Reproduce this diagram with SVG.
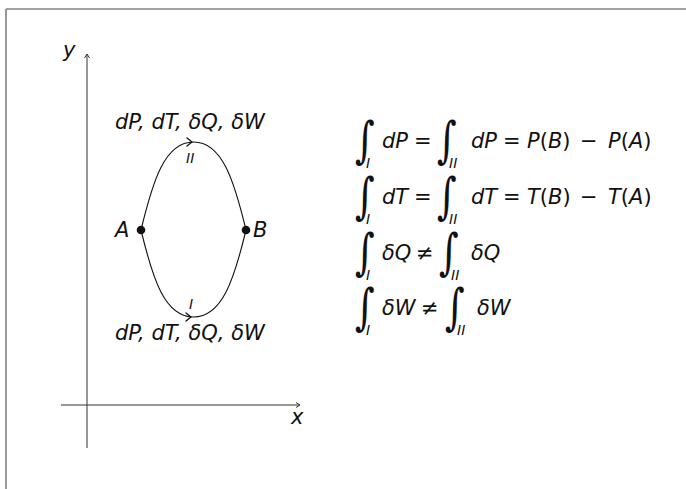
<svg xmlns="http://www.w3.org/2000/svg" width="686" height="489" viewBox="0 0 686 489">
<style>
.m{font-family:"DejaVu Sans",sans-serif;font-style:oblique;font-size:21px;fill:#111}
.u{font-family:"DejaVu Sans",sans-serif;font-style:normal;font-size:21px;fill:#111}
.s{font-family:"DejaVu Sans",sans-serif;font-style:oblique;font-size:14px;fill:#111}
.int{font-family:"DejaVu Serif",serif;font-style:italic;font-size:38px;fill:#111}
.ax{stroke:#333;stroke-width:1;fill:none}
.cv{stroke:#111;stroke-width:1.1;fill:none}
.ah{stroke:#111;stroke-width:1.3;fill:none;stroke-linecap:round;stroke-linejoin:round}
</style>
<rect width="686" height="489" fill="#fff"/>
<g id="frame">
<line x1="6" y1="9" x2="686" y2="9" stroke="#444" stroke-width="1.2"/>
<line x1="6" y1="9" x2="6" y2="489" stroke="#777" stroke-width="1.5"/>
</g>
<g id="axes">
<line class="ax" x1="87" y1="448" x2="87" y2="54"/>
<path class="ax" d="M84.5,58 L87,54 L89.5,58"/>
<line class="ax" x1="61" y1="405" x2="300" y2="405"/>
<path class="ax" d="M296,402.5 L300,405 L296,407.5"/>
<text class="m" x="63" y="57">y</text>
<text class="m" x="291" y="424">x</text>
</g>
<g id="connectors">
<path id="pathII" class="cv" d="M141,230 C153,180 165,142 193.5,142 C222,142 234,180 246,230"/>
<path class="ah" d="M187,138 L192,142 L187,146"/>
<path id="pathI" class="cv" d="M141,230 C153,280 165,317 193.5,317 C222,317 234,280 246,230"/>
<path class="ah" d="M186,313 L191,317 L186,321"/>
<text class="s" x="186" y="163">II</text>
<text class="s" x="189" y="309">I</text>
</g>
<g id="nodeA">
<circle cx="141" cy="230" r="4.3" fill="#111"/>
<text class="m" x="115" y="237">A</text>
</g>
<g id="nodeB">
<circle cx="246" cy="230" r="4.3" fill="#111"/>
<text class="m" x="253" y="237">B</text>
</g>
<g id="labelTop">
<text class="m" x="115" y="129">dP, dT, δQ, δW</text>
</g>
<g id="labelBottom">
<text class="m" x="115" y="340">dP, dT, δQ, δW</text>
</g>
<g id="eq1">
<text class="int" transform="translate(355,157) scale(1,1.3)">∫</text>
<text class="s" x="366" y="168">I</text>
<text class="m" x="382" y="148">dP</text>
<text class="u" x="414" y="148">=</text>
<text class="int" transform="translate(437,157) scale(1,1.3)">∫</text>
<text class="s" x="449" y="168">II</text>
<text class="m" x="471" y="148">dP</text>
<text class="u" x="503" y="148">=</text>
<text class="m" x="527" y="148">P<tspan class="u">(</tspan>B<tspan class="u">)</tspan></text>
<text class="u" x="580" y="148">−</text>
<text class="m" x="608" y="148">P<tspan class="u">(</tspan>A<tspan class="u">)</tspan></text>
</g>
<g id="eq2">
<text class="int" transform="translate(355,213) scale(1,1.3)">∫</text>
<text class="s" x="366" y="224">I</text>
<text class="m" x="382" y="204">dT</text>
<text class="u" x="414" y="204">=</text>
<text class="int" transform="translate(437,213) scale(1,1.3)">∫</text>
<text class="s" x="449" y="224">II</text>
<text class="m" x="471" y="204">dT</text>
<text class="u" x="503" y="204">=</text>
<text class="m" x="527" y="204">T<tspan class="u">(</tspan>B<tspan class="u">)</tspan></text>
<text class="u" x="580" y="204">−</text>
<text class="m" x="608" y="204">T<tspan class="u">(</tspan>A<tspan class="u">)</tspan></text>
</g>
<g id="eq3">
<text class="int" transform="translate(355,269) scale(1,1.3)">∫</text>
<text class="s" x="366" y="280">I</text>
<text class="m" x="382" y="260">δQ</text>
<text class="u" x="416" y="260">≠</text>
<text class="int" transform="translate(439,269) scale(1,1.3)">∫</text>
<text class="s" x="451" y="280">II</text>
<text class="m" x="471" y="260">δQ</text>
</g>
<g id="eq4">
<text class="int" transform="translate(355,324) scale(1,1.3)">∫</text>
<text class="s" x="366" y="335">I</text>
<text class="m" x="382" y="315">δW</text>
<text class="u" x="421" y="315">≠</text>
<text class="int" transform="translate(445,324) scale(1,1.3)">∫</text>
<text class="s" x="457" y="335">II</text>
<text class="m" x="477" y="315">δW</text>
</g>
</svg>
